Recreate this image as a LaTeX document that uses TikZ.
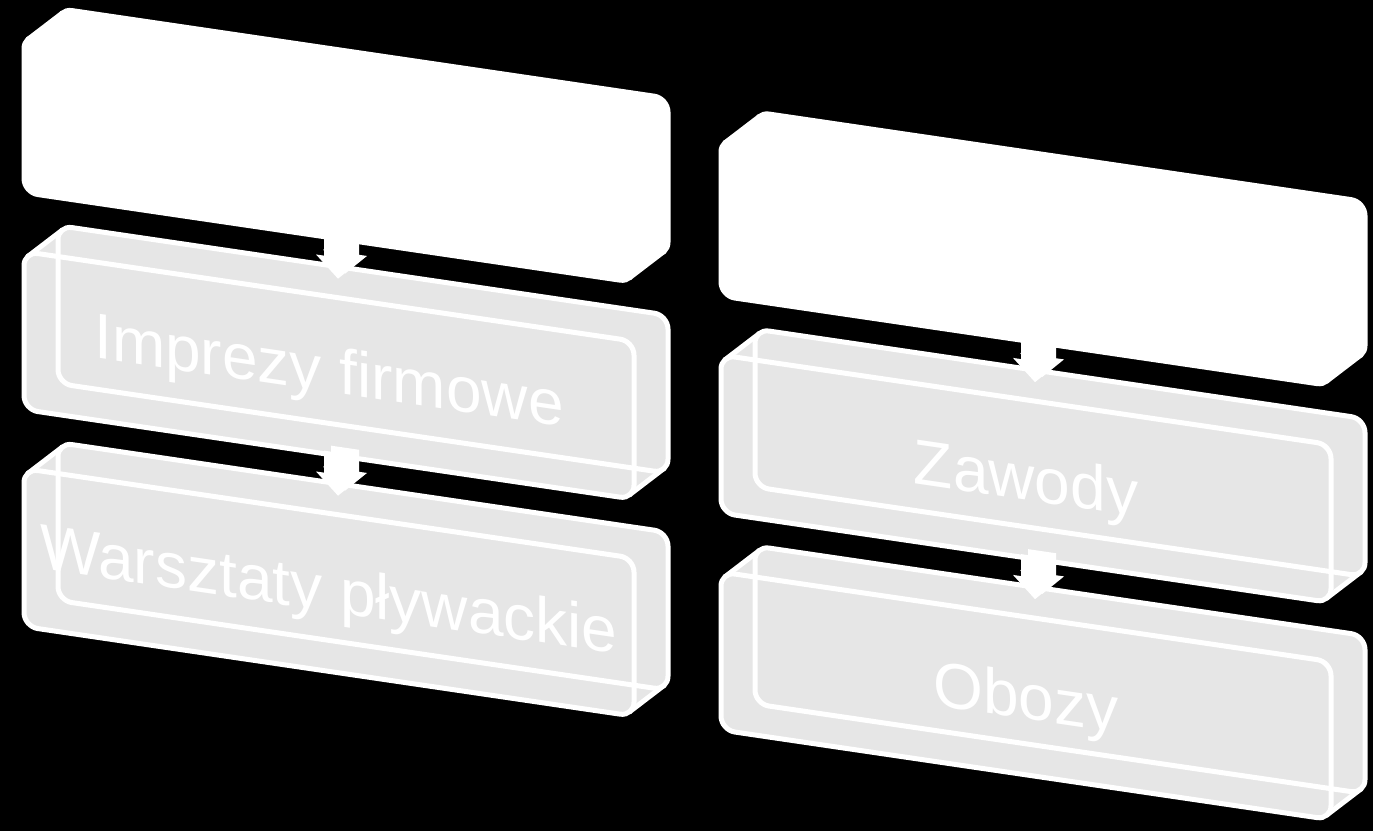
\documentclass[tikz,border=0pt]{standalone}
\usepackage{fontspec}
\setmainfont{Liberation Sans}
\definecolor{boxgray}{HTML}{E6E6E6}
\tikzset{
  faceline/.style={draw=white, line width=5pt, rounded corners=14pt},
  edgeline/.style={draw=white, line width=5pt, line cap=round},
  boxlabel/.style={text=white, font=\fontsize{64}{64}\selectfont, anchor=base, inner sep=0pt, transform shape},
  arrowfill/.style={fill=white}
}
% #1 fill colour, #2 u (left of front face), #3 v (top of front face, downward)
\newcommand\tdbox[3]{%
  \fill[#1] ({#2+4.1},{-#3-4.1}) -- ({#2+38.1},{-#3+26.9}) -- ({#2+639.9},{-#3+26.9})
     -- ({#2+639.9},{-#3-122.9}) -- ({#2+605.9},{-#3-153.9}) -- ({#2+4.1},{-#3-153.9}) -- cycle;
  \fill[#1, rounded corners=14pt] ({#2+34},{-#3+31}) rectangle ({#2+644},{-#3-127});
  \fill[#1, rounded corners=14pt] (#2,-#3) rectangle ({#2+610},{-#3-158});
  \path[faceline] ({#2+34},{-#3+31}) rectangle ({#2+644},{-#3-127});
  \path[faceline] (#2,-#3) rectangle ({#2+610},{-#3-158});
  \path[edgeline] ({#2+4.1},{-#3-4.1}) -- ({#2+38.1},{-#3+26.9});
  \path[edgeline] ({#2+605.9},{-#3-153.9}) -- ({#2+639.9},{-#3-122.9});
}
% #1 name, #2 centre u, #3 top v
\newcommand\tdarrow[3]{%
  \coordinate (#1) at (#2,-#3);
  \fill[arrowfill] ({#2-14+7},{-#3+6}) -- ({#2+14+7},{-#3+6}) -- ({#2+14+7},{-#3-22+6}) -- ({#2+22+7},{-#3-22+6})
     -- ({#2+7},{-#3-43+6}) -- ({#2-22+7},{-#3-22+6}) -- ({#2-14+7},{-#3-22+6}) -- cycle;
  \fill[arrowfill] ({#2-14},{-#3}) -- ({#2+14},{-#3}) -- ({#2+14},{-#3-22}) -- ({#2+22},{-#3-22})
     -- ({#2},{-#3-43}) -- ({#2-22},{-#3-22}) -- ({#2-14},{-#3-22}) -- cycle;
}
\begin{document}
\begin{tikzpicture}[x=1pt,y=1pt]
\useasboundingbox (0,0) rectangle (1373,-831);
\fill[black] (0,0) rectangle (1373,-831);
\begin{scope}[cm={1,-0.147,0,1,(0,0)}]
  % left column
  \tdbox{white}{24}{31}
  \tdbox{boxgray}{24}{248}
  \node[boxlabel] (imprezy) at (329,-344) {Imprezy firmowe};
  \tdbox{boxgray}{24}{465}
  \node[boxlabel] (warsztaty) at (329,-563) {Warsztaty pływackie};
  % right column
  \tdbox{white}{721}{32}
  \tdbox{boxgray}{721}{249}
  \node[boxlabel] (zawody) at (1026,-349) {Zawody};
  \tdbox{boxgray}{721}{466}
  \node[boxlabel] (obozy) at (1026,-568) {Obozy};
  % connectors
  \tdarrow{a1}{338}{186}
  \tdarrow{a2}{338}{403}
  \tdarrow{a3}{1035}{187}
  \tdarrow{a4}{1035}{404}
\end{scope}
\end{tikzpicture}
\end{document}
